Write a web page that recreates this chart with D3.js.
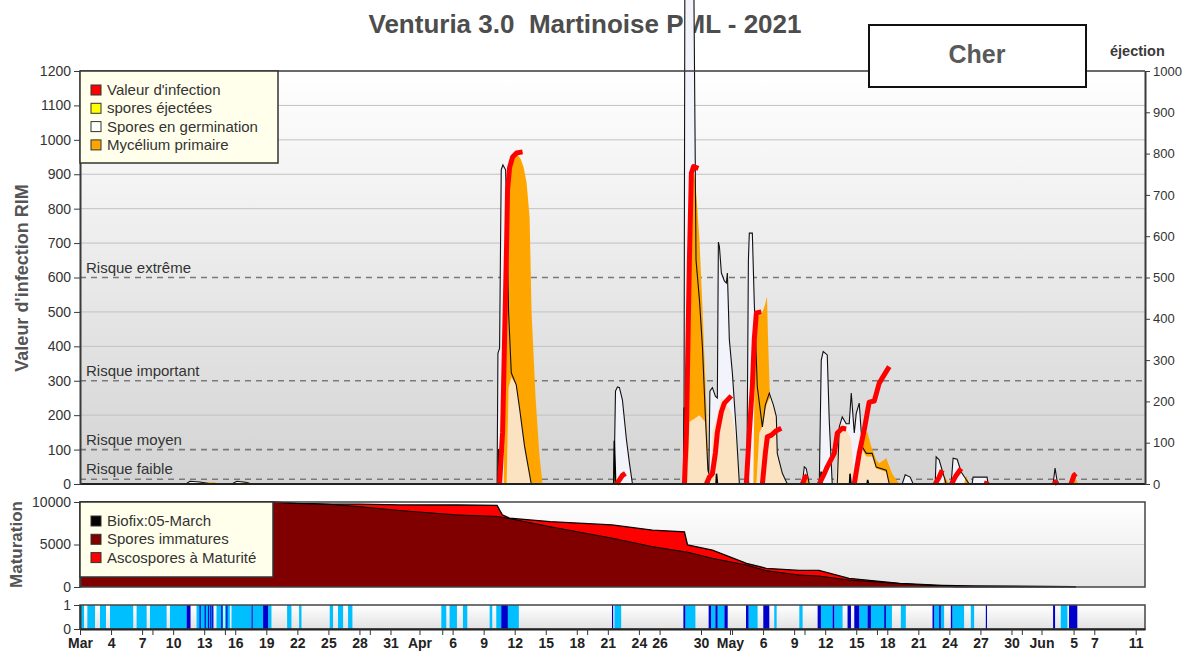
<!DOCTYPE html>
<html><head><meta charset="utf-8">
<script src="https://cdn.jsdelivr.net/npm/d3@7"></script>
<style>
body{margin:0;background:#fff}
svg{display:block}
text{font-family:"Liberation Sans",Arial,sans-serif}
</style>
</head><body>
<svg id="c" width="1188" height="652"></svg>
<script>
// ---------------- DATA ----------------
const chartTitle = "Venturia 3.0  Martinoise PML - 2021";
const stationName = "Cher";
const rightAxisTitle = "éjection";
const leftAxisTitle = "Valeur d'infection RIM";
const matAxisTitle = "Maturation";
const leftTicks = [0,100,200,300,400,500,600,700,800,900,1000,1100,1200];
const rightTicks = [0,100,200,300,400,500,600,700,800,900,1000];
const riskLevels = [600,300,100,14];
const riskLabels = ["Risque extrême","Risque important","Risque moyen","Risque faible"];
const legendMain = ["Valeur d'infection","spores éjectées","Spores en germination","Mycélium primaire"];
const legendMat = ["Biofix:05-March","Spores immatures","Ascospores à Maturité"];

// days since 1 March 2021, value (RIM)
const germination = [[0,0],
 [10.23,0],[10.62,8],[11.58,6],[12.74,0],
 [14.67,0],[15.15,8],[16.02,5],[16.6,0],
 [40.30,0],[40.38,380],[40.54,395],[40.70,913],[40.86,927],[41.12,913],[41.22,800],[41.41,500],[41.67,323],[42.15,288],[42.47,220],[42.95,110],[43.60,0],
 [51.59,0],[51.74,270],[51.93,282],[52.12,280],[52.41,244],[52.80,128],[53.09,60],[53.38,0],
 [58.35,0],[58.44,1450],[59.31,1450],[59.52,651],[59.85,535],[60.14,398],[60.42,200],[60.67,40],[60.76,30],[60.86,270],[61.10,280],[61.39,255],[61.58,250],[61.68,703],[61.78,690],[61.97,613],[62.26,590],[62.45,584],[62.55,613],[62.74,419],[63.03,323],[63.42,148],[63.71,0],
 [64.43,0],[64.58,650],[64.67,729],[64.96,729],[65.15,525],[65.44,283],[65.93,166],[66.22,230],[66.60,264],[66.99,230],[67.28,196],[67.37,89],[67.86,31],[68.34,0],
 [69.79,0],[69.98,50],[70.17,45],[70.46,0],
 [71.43,0],[71.62,360],[71.81,385],[72.2,375],[72.39,186],[72.68,0],
 [73.17,0],[73.36,166],[73.65,195],[74.03,175],[74.32,175],[74.52,264],[74.81,148],[75.0,205],[75.29,235],[75.58,108],[75.97,89],[76.54,89],[76.93,49],[77.90,40],[78.19,0],
 [79.44,0],[79.73,27],[80.21,20],[80.5,0],
 [82.63,0],[82.72,79],[83.01,70],[83.3,40],[83.69,0],
 [84.17,0],[84.36,75],[84.75,72],[85.14,35],[85.91,0],
 [86.20,0],[86.29,20],[87.64,20],[87.74,0],
 [94.02,0],[94.21,46],[94.40,10],[94.59,0],[102.9,0]];

const mycelium = [
 [11.1,0],[11.58,5],[13.03,5],[13.32,0],
 [15.25,0],[15.93,6],[16.89,0],
 [40.93,0],[41.22,600],[41.51,880],[41.80,950],[42.18,960],[42.57,945],[42.86,920],[43.15,875],[43.44,776],[43.63,500],[44.02,250],[44.40,80],[44.69,0],
 [58.69,0],[58.88,600],[59.07,880],[59.36,903],[59.65,800],[59.85,709],[60.14,515],[60.52,224],[60.81,0],
 [65.06,0],[65.25,490],[65.83,490],[66.18,520],[66.38,545],[66.47,430],[66.67,245],[66.86,89],[67.05,0],
 [70.08,0],[70.27,20],[70.56,0],
 [75.29,0],[75.68,140],[76.06,152],[76.45,110],[76.93,70],[77.22,60],[77.90,75],[78.47,30],[79.15,0],
 [83.40,0],[83.59,20],[83.98,0],
 [85.42,0],[85.62,25],[85.91,0],
 [95.95,0],[96.14,20],[96.43,0]];

const germinationInfected = [
 [41.22,0],[41.41,280],[41.67,310],[42.15,288],[42.47,220],[42.95,110],[43.60,0],
 [58.69,0],[58.88,180],[59.85,200],[60.42,180],[60.67,40],[60.81,0],
 [60.91,0],[61.10,150],[61.58,200],[61.97,250],[62.45,230],[62.74,220],[63.03,200],[63.42,120],[63.71,0],
 [65.35,0],[65.64,150],[65.93,166],[66.22,220],[66.60,250],[66.99,220],[67.28,190],[67.37,89],[67.86,31],[68.34,0],
 [72.97,0],[73.36,150],[73.65,180],[74.03,160],[74.52,130],[74.81,0],
 [75.0,0],[75.29,150],[75.58,100],[75.97,80],[76.54,80],[76.93,45],[77.90,35],[78.19,0]];

const infection = [
 [40.54,0],[40.83,150],[41.02,419],[41.22,700],[41.31,855],[41.51,920],[41.80,950],[42.18,962],[42.76,965],null,
 [51.83,0],[52.12,12],[52.41,25],[52.70,31],null,
 [58.40,0],[58.59,150],[58.69,323],[58.88,650],[59.07,903],[59.27,922],[59.75,917],null,
 [60.52,0],[60.81,20],[61.10,30],[61.39,90],[61.58,150],[61.97,210],[62.26,235],[62.93,256],null,
 [64.38,0],[64.67,150],[64.96,283],[65.15,420],[65.35,497],[65.83,500],null,
 [65.93,0],[66.22,90],[66.41,137],[66.80,142],[67.28,155],[67.76,162],null,
 [69.79,0],[70.08,20],[70.27,25],null,
 [71.43,0],[71.91,30],[72.2,50],[72.88,89],[73.17,148],[73.65,162],[74.03,160],null,
 [74.81,0],[75.29,89],[75.77,157],[76.25,238],[76.74,241],[77.22,293],[77.70,317],[78.19,341],null,
 [82.63,0],[83.01,20],[83.3,40],null,
 [84.2,0],[84.65,25],[85.14,45],null,
 [87.55,0],[87.64,8],null,
 [94.11,0],[94.4,10],null,
 [95.75,0],[96.04,25],[96.24,30]];

// spores ejected (right axis)
const ejection = [[0,0],
 [40.40,0],[40.45,85],[40.55,60],[40.65,0],
 [51.57,0],[51.62,105],[51.70,50],[51.76,0],
 [58.33,0],[58.38,185],[58.48,120],[58.56,0],
 [60.62,0],[60.67,20],[60.75,0],
 [61.45,0],[61.5,25],[61.6,0],
 [64.45,0],[64.5,40],[64.6,0],
 [69.92,0],[69.97,15],[70.05,0],
 [71.55,0],[71.6,30],[71.7,0],
 [74.35,0],[74.4,25],[74.5,0],
 [76.05,0],[76.1,10],[76.2,0]];

// maturation
const matDays   = [0,18.6,20.9,24.4,27.0,30.9,36.5,40.3,40.8,41.5,45.4,51.4,55.3,58.4,58.7,61.1,64.4,66.3,69.5,71.4,74.3,79.2,83.3,84.7,86.4,96.0,96.2];
const immature  = [10000,10000,9850,9700,9450,9000,8470,8300,8200,8050,7100,5750,4750,4150,4100,3370,2590,1920,1410,1290,820,400,118,0,0,0,0];
const remaining = [10000,10000,9850,9750,9750,9650,9650,9600,8500,8100,7700,7300,6700,6500,4950,4350,2780,2200,1950,1950,1020,430,200,150,118,50,0];

// wetness strip [start day, end day]
const wetSpells = [[0.00,0.39],[0.71,1.45],[1.93,2.51],[2.90,5.14],[5.47,6.44],[6.76,8.37],[8.69,10.30],[11.26,12.87],[13.19,13.83],[14.0,14.48],[14.64,16.57],[16.67,17.69],[18.18,18.50],[20.01,20.43],[21.17,21.40],[24.13,24.45],[24.93,25.42],[25.90,26.32],[34.91,35.39],[35.71,36.42],[37.00,37.42],[39.58,39.83],[40.22,40.70],[41.34,42.40],[51.64,52.29],[58.49,59.46],[60.97,61.39],[61.61,62.26],[64.60,65.47],[67.08,67.31],[69.50,69.82],[71.59,72.71],[72.88,73.68],[75.29,76.09],[76.42,77.70],[77.87,78.45],[79.31,79.79],[82.53,83.01],[83.17,83.49],[84.29,85.42],[86.07,86.39],[94.76,95.40]];
const rainSpells = [[10.30,10.68],[11.55,11.62],[12.04,12.10],[12.36,12.42],[12.58,12.64],[12.77,12.83],[13.65,13.71],[14.13,14.19],[16.57,16.67],[17.69,18.18],[40.70,41.34],[51.40,51.50],[58.30,58.49],[60.74,60.97],[61.39,61.61],[62.26,62.58],[64.35,64.60],[66.02,66.60],[71.27,71.59],[72.71,72.88],[74.16,74.49],[74.81,75.29],[76.09,76.42],[77.70,77.87],[82.37,82.53],[83.01,83.17],[84.14,84.29],[87.52,87.62],[94.02,94.21],[95.56,96.36]];

const xTickLabels = ["Mar","4","7","10","13","16","19","22","25","28","31","Apr","6","9","12","15","18","21","24","26","30","May","6","9","12","15","18","21","24","27","30","Jun","5","7","11"];
const xTickDays   = [0,3,6,9,12,15,18,21,24,27,30,32.8,36,39,42,45,48,51,54,56,60,62.8,66,69,72,75,78,81,84,87,90,92.9,96,98,102];

// ---------------- LAYOUT ----------------
const L = 80, R = 1145;
const mainTop = 71, mainBot = 484;
const matTop = 502, matBot = 587;
const stripTop = 605, stripBot = 629;
const t0 = Date.UTC(2021,2,1);
const toDate = d => new Date(t0 + d*864e5);
const fmtInt = d3.format("d");

const svg = d3.select("#c");
const x  = d3.scaleUtc().domain([toDate(0), toDate(102.9)]).range([L, R]);
const yL = d3.scaleLinear().domain([0,1200]).range([mainBot, mainTop]);
const yR = d3.scaleLinear().domain([0,1000]).range([mainBot, mainTop]);
const yM = d3.scaleLinear().domain([0,10000]).range([matBot, matTop]);
const yS = d3.scaleLinear().domain([0,1]).range([stripBot, stripTop]);
const X = d => x(toDate(d));

const defs = svg.append("defs");
function grad(id, c1, c2){
  const g = defs.append("linearGradient").attr("id",id).attr("x1",0).attr("y1",0).attr("x2",0).attr("y2",1);
  g.append("stop").attr("offset","0%").attr("stop-color",c1);
  g.append("stop").attr("offset","100%").attr("stop-color",c2);
}
grad("gMain","#ffffff","#d3d3d3");
grad("gMat","#ffffff","#e6e6e6");
grad("gStrip","#ffffff","#e2e2e2");

// title
svg.append("text").attr("x",585).attr("y",33).attr("text-anchor","middle")
  .style("white-space","pre").attr("font-size",26).attr("font-weight","bold").attr("fill","#4d4d4d")
  .text(chartTitle);

// ---------------- MAIN PANEL ----------------
svg.append("rect").attr("x",L).attr("y",mainTop).attr("width",R-L).attr("height",mainBot-mainTop).attr("fill","url(#gMain)");

svg.append("g").selectAll("line").data(leftTicks.filter(v => ![0,100,300,600,1200].includes(v)))
  .join("line").attr("x1",L).attr("x2",R).attr("y1",d=>yL(d)).attr("y2",d=>yL(d))
  .attr("stroke","#c2c2c2").attr("stroke-width",1);

svg.append("g").selectAll("line").data(riskLevels).join("line")
  .attr("x1",L).attr("x2",R).attr("y1",d=>yL(d)).attr("y2",d=>yL(d))
  .attr("stroke","#7a7a7a").attr("stroke-width",1.6).attr("stroke-dasharray","6,5");

svg.append("g").selectAll("text").data(riskLevels).join("text")
  .attr("x",86).attr("y",d=>yL(d)-5).attr("font-size",15).attr("fill","#333")
  .text((d,i)=>riskLabels[i]);

const areaL = d3.area().x(d=>X(d[0])).y0(yL(0)).y1(d=>yL(d[1]));
const lineL = d3.line().x(d=>X(d[0])).y(d=>yL(d[1]));

svg.append("path").datum(germination).attr("d",areaL).attr("fill","#f3f3fb");
svg.append("path").datum(mycelium).attr("d",areaL).attr("fill","#ffa500");
svg.append("path").datum(germinationInfected).attr("d",areaL).attr("fill","#fbe2c0");
svg.append("path").datum(germination).attr("d",lineL).attr("fill","none").attr("stroke","#111").attr("stroke-width",1.1);

const areaR = d3.area().x(d=>X(d[0])).y0(yR(0)).y1(d=>yR(d[1]));
svg.append("path").datum(ejection).attr("d",areaR).attr("fill","#ffff00").attr("stroke","#000").attr("stroke-width",1.5);

svg.append("path").datum(infection)
  .attr("d", d3.line().defined(d=>d!==null).x(d=>X(d[0])).y(d=>yL(d[1])))
  .attr("fill","none").attr("stroke","#ff0000").attr("stroke-width",5).attr("stroke-linejoin","round");

function styleAxis(g, size){
  g.selectAll("path.domain").attr("stroke","#3a3a3a").attr("stroke-width",2);
  g.selectAll(".tick line").attr("stroke","#3a3a3a");
  g.selectAll(".tick text").attr("font-size",size).attr("fill","#333").attr("font-family","'Liberation Sans',Arial,sans-serif");
}
// frame lines
svg.append("line").attr("x1",L).attr("x2",R).attr("y1",mainTop).attr("y2",mainTop).attr("stroke","#3a3a3a").attr("stroke-width",1.5);
svg.append("line").attr("x1",L).attr("x2",R).attr("y1",mainBot).attr("y2",mainBot).attr("stroke","#222").attr("stroke-width",2);
const axL = svg.append("g").attr("transform",`translate(${L},0)`)
  .call(d3.axisLeft(yL).tickValues(leftTicks).tickFormat(fmtInt).tickSize(6).tickSizeOuter(0).tickPadding(3));
styleAxis(axL,14);
const axR = svg.append("g").attr("transform",`translate(${R},0)`)
  .call(d3.axisRight(yR).tickValues(rightTicks).tickFormat(fmtInt).tickSize(5).tickSizeOuter(0).tickPadding(3));
styleAxis(axR,13);

svg.append("text").attr("transform",`translate(28,278) rotate(-90)`).attr("text-anchor","middle")
  .attr("font-size",18).attr("font-weight","bold").attr("fill","#555").text(leftAxisTitle);

// legends
function legend(x0,y0,w,h,labels,colors,rowY){
  const g = svg.append("g");
  g.append("rect").attr("x",x0).attr("y",y0).attr("width",w).attr("height",h)
    .attr("fill","#ffffeb").attr("stroke","#333").attr("stroke-width",1.5);
  labels.forEach((t,i)=>{
    g.append("rect").attr("x",91).attr("y",rowY+i*18.3).attr("width",10).attr("height",10)
      .attr("fill",colors[i]).attr("stroke","#333").attr("stroke-width",1);
    g.append("text").attr("x",107).attr("y",rowY+i*18.3+10).attr("font-size",15).attr("fill","#333").text(t);
  });
}
legend(L,mainTop,198,92,legendMain,["#ff0000","#ffff00","#ffffff","#ffa500"],85);

// station box
svg.append("rect").attr("x",869).attr("y",25).attr("width",217).attr("height",62)
  .attr("fill","#fff").attr("stroke","#111").attr("stroke-width",2);
svg.append("text").attr("x",977).attr("y",63).attr("text-anchor","middle")
  .attr("font-family","Lato,'Open Sans',sans-serif").attr("font-weight","bold").attr("font-size",25).attr("fill","#595959")
  .text(stationName);
svg.append("text").attr("x",1110).attr("y",56)
  .attr("font-family","'DejaVu Sans',sans-serif").attr("font-weight","bold").attr("font-size",14.5).attr("fill","#3a3a3a")
  .text(rightAxisTitle);

// ---------------- MATURATION PANEL ----------------
svg.append("rect").attr("x",L).attr("y",matTop).attr("width",R-L).attr("height",matBot-matTop).attr("fill","url(#gMat)");
svg.append("line").attr("x1",L).attr("x2",R).attr("y1",yM(5000)).attr("y2",yM(5000)).attr("stroke","#cfcfcf");
const matData = matDays.map((d,i)=>({d, imm: immature[i], tot: remaining[i]}));
svg.append("path").datum(matData)
  .attr("d", d3.area().x(d=>X(d.d)).y0(yM(0)).y1(d=>yM(d.tot)))
  .attr("fill","#ff0000");
svg.append("path").datum(matData)
  .attr("d", d3.area().x(d=>X(d.d)).y0(yM(0)).y1(d=>yM(d.imm)))
  .attr("fill","#800000");
svg.append("path").datum(matData)
  .attr("d", d3.line().x(d=>X(d.d)).y(d=>yM(d.tot)))
  .attr("fill","none").attr("stroke","#000").attr("stroke-width",1.3);
svg.append("path").datum(matData)
  .attr("d", d3.line().x(d=>X(d.d)).y(d=>yM(d.imm)))
  .attr("fill","none").attr("stroke","#000").attr("stroke-width",1);
svg.append("rect").attr("x",L).attr("y",matTop).attr("width",R-L).attr("height",matBot-matTop)
  .attr("fill","none").attr("stroke","#444").attr("stroke-width",1.5);
const axM = svg.append("g").attr("transform",`translate(${L},0)`)
  .call(d3.axisLeft(yM).tickValues([0,5000,10000]).tickFormat(fmtInt).tickSize(6).tickSizeOuter(0).tickPadding(3));
styleAxis(axM,14);
svg.append("text").attr("transform",`translate(22,${(matTop+matBot)/2}) rotate(-90)`).attr("text-anchor","middle")
  .attr("font-size",17).attr("font-weight","bold").attr("fill","#555").text(matAxisTitle);
legend(L,matTop,193,75,legendMat,["#000000","#800000","#ff0000"],516);

// ---------------- WETNESS STRIP ----------------
svg.append("rect").attr("x",L).attr("y",stripTop).attr("width",R-L).attr("height",stripBot-stripTop).attr("fill","url(#gStrip)");
svg.append("g").selectAll("rect").data(wetSpells).join("rect")
  .attr("x",d=>X(d[0])).attr("width",d=>Math.max(1,X(d[1])-X(d[0])))
  .attr("y",yS(1)).attr("height",yS(0)-yS(1)).attr("fill","#00bfff");
svg.append("g").selectAll("rect").data(rainSpells).join("rect")
  .attr("x",d=>X(d[0])).attr("width",d=>Math.max(1.2,X(d[1])-X(d[0])))
  .attr("y",yS(1)).attr("height",yS(0)-yS(1)).attr("fill","#0000cd");
svg.append("rect").attr("x",L).attr("y",stripTop).attr("width",R-L).attr("height",stripBot-stripTop)
  .attr("fill","none").attr("stroke","#444").attr("stroke-width",1.5);
const axS = svg.append("g").attr("transform",`translate(${L},0)`)
  .call(d3.axisLeft(yS).tickValues([0,1]).tickFormat(fmtInt).tickSize(6).tickSizeOuter(0).tickPadding(3));
styleAxis(axS,14);

// x axis
const labelMap = new Map(xTickDays.map((d,i)=>[+toDate(d), xTickLabels[i]]));
const mondays = d3.utcMonday.range(toDate(0), toDate(102.9));
const tickDates = Array.from(new Set([...xTickDays.map(d=>+toDate(d)), ...mondays.map(d=>+d)])).sort((a,b)=>a-b).map(t=>new Date(t));
const axX = svg.append("g").attr("transform",`translate(0,${stripBot})`)
  .call(d3.axisBottom(x).tickValues(tickDates).tickSize(6).tickSizeOuter(0).tickPadding(3)
    .tickFormat(d => labelMap.get(+d) || ""));
axX.selectAll("path.domain").attr("stroke","#222").attr("stroke-width",2);
axX.selectAll(".tick line").attr("stroke","#333");
axX.selectAll(".tick text").attr("font-size",14).attr("font-weight","bold").attr("fill","#222")
  .attr("font-family","'Liberation Sans',Arial,sans-serif");
</script>
</body></html>
